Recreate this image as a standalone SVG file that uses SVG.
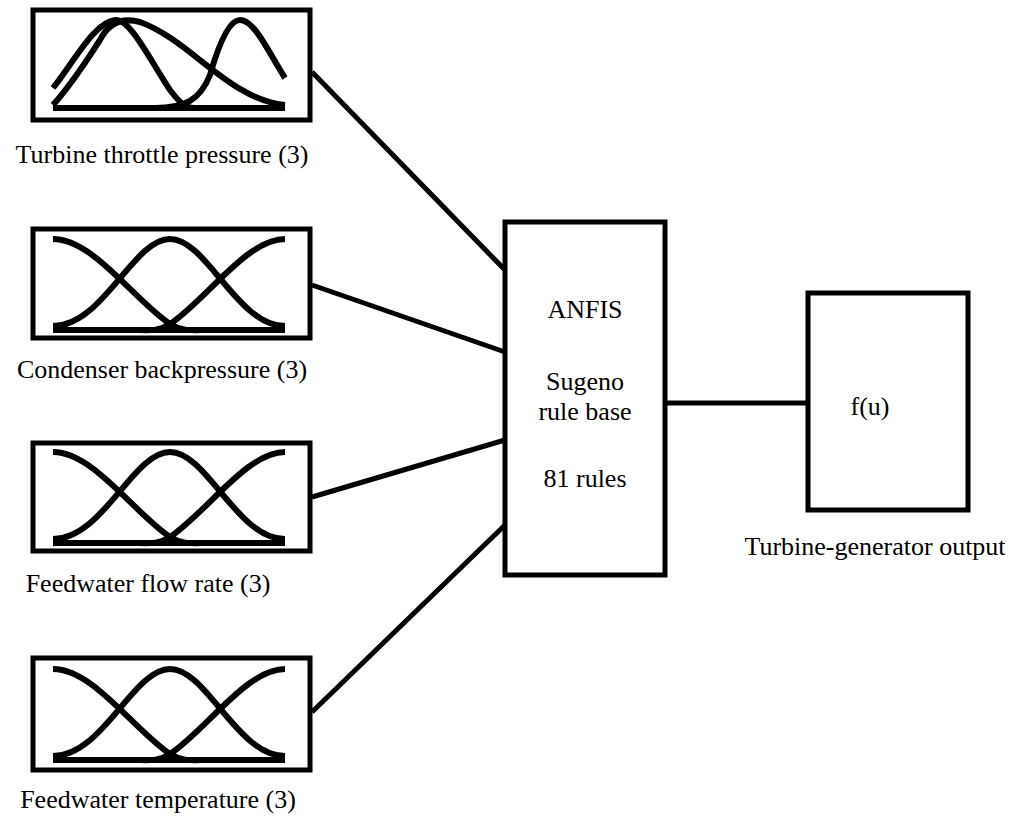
<svg xmlns="http://www.w3.org/2000/svg" xmlns:xlink="http://www.w3.org/1999/xlink" width="1024" height="822" viewBox="0 0 1024 822">
<style>
.b{fill:none;stroke:#000;stroke-width:5}
.c{fill:none;stroke:#000;stroke-width:6;stroke-linecap:butt}
text{font-family:"Liberation Serif",serif;font-size:26px;fill:#000}
.m{text-anchor:middle}
</style>
<defs>
<g id="mf3">
<path class="c" d="M20,101 L252,101"/>
<path class="c" d="M20,10 C60,10 100,70 137,95 C150,103 160,101 175,101"/>
<path class="c" d="M20,97 C70,97 100,10 137,10 C174,10 204,97 252,97"/>
<path class="c" d="M100,101 C115,101 125,103 137,95 C174,70 214,10 252,10"/>
</g>
</defs>
<rect width="1024" height="822" fill="#fff"/>
<g id="connectors">
<path class="b" d="M312,72 L505,270 M312,285 L505,352 M312,497 L505,440 M312,712 L505,525 M665,403 L808,403"/>
</g>
<g id="in1">
<rect class="b" x="33" y="10" width="277" height="110"/>
<path class="c" d="M53,108 L285,108"/>
<path class="c" d="M53,88 C75,60 95,22 115,20 C130,18 150,60 170,90 C180,103 185,108 195,108"/>
<path class="c" d="M53,105 C75,80 90,55 100,40 C110,20 125,18 140,22 C190,40 230,100 285,105"/>
<path class="c" d="M155,108 C185,108 200,100 210,75 C220,40 230,20 240,20 C255,20 270,55 285,78"/>
<text class="m" x="162" y="163">Turbine throttle pressure (3)</text>
</g>
<g id="in2">
<rect class="b" x="33" y="229" width="277" height="109"/>
<use xlink:href="#mf3" x="33" y="229"/>
<text class="m" x="162" y="378">Condenser backpressure (3)</text>
</g>
<g id="in3">
<rect class="b" x="33" y="443" width="277" height="108"/>
<use xlink:href="#mf3" x="33" y="442"/>
<text class="m" x="148" y="592">Feedwater flow rate (3)</text>
</g>
<g id="in4">
<rect class="b" x="33" y="658" width="277" height="112"/>
<use xlink:href="#mf3" x="33" y="659"/>
<text class="m" x="158" y="808">Feedwater temperature (3)</text>
</g>
<g id="anfis">
<rect class="b" x="505" y="222" width="160" height="353"/>
<text class="m" x="585" y="318">ANFIS</text>
<text class="m" x="585" y="390">Sugeno</text>
<text class="m" x="585" y="420">rule base</text>
<text class="m" x="585" y="487">81 rules</text>
</g>
<g id="out">
<rect class="b" x="808" y="293" width="160" height="217"/>
<text class="m" x="870" y="415">f(u)</text>
<text class="m" x="875" y="555">Turbine-generator output</text>
</g>
</svg>
